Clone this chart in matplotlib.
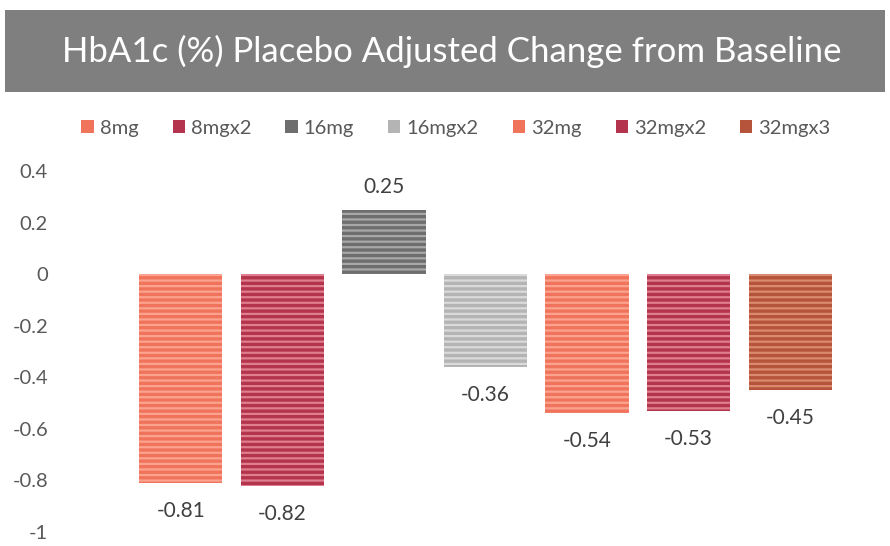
import numpy as np
import matplotlib.pyplot as plt
from matplotlib.patches import Rectangle

# Dose groups and placebo adjusted HbA1c change
doses = ["8mg", "8mgx2", "16mg", "16mgx2", "32mg", "32mgx2", "32mgx3"]
changes = [-0.81, -0.82, 0.25, -0.36, -0.54, -0.53, -0.45]
yticks = [0.4, 0.2, 0, -0.2, -0.4, -0.6, -0.8, -1]

# base fill and stripe colour for each bar
fills = ["#F0745C", "#B3344C", "#6E6E6E", "#B4B4B4", "#F0745C", "#B3344C", "#B5543A"]
stripes = ["#FBA38E", "#DE7E8E", "#A8A8A8", "#DADADA", "#FBA38E", "#DE7E8E", "#DA8A6E"]

plt.rcParams["font.family"] = ["Lato", "DejaVu Sans"]
plt.rcParams["hatch.linewidth"] = 1.6

fig = plt.figure(figsize=(8.9, 5.46), dpi=100)

# grey title banner
fig.patches.append(Rectangle((5 / 890, 1 - 92 / 546), 880 / 890, 82 / 546,
                             transform=fig.transFigure, facecolor="#7F7F7F",
                             edgecolor="none", zorder=0))
fig.text(452 / 890, 1 - 51 / 546, "HbA1c (%) Placebo Adjusted Change from Baseline",
         ha="center", va="center", color="white", fontsize=25)

ax = fig.add_axes([130 / 890, 14 / 546, 711 / 890, 361 / 546])
x = np.arange(len(doses))
width = 0.82

for i, (d, v) in enumerate(zip(doses, changes)):
    ax.bar(x[i], v, width, color=fills[i], label=d, zorder=2)
    ax.bar(x[i], v, width, facecolor="none", edgecolor=stripes[i],
           hatch="---", linewidth=0, zorder=3)
    if v >= 0:
        ax.text(x[i], v + 0.05, f"{v:.2f}", ha="center", va="bottom",
                fontsize=15, color="#404040")
    else:
        ax.text(x[i], v - 0.07, f"{v:.2f}", ha="center", va="top",
                fontsize=15, color="#404040")

ax.set_xlim(-0.5, len(doses) - 0.5)
ax.set_ylim(-1, 0.4)
ax.set_yticks(yticks)
ax.set_yticklabels([f"{t:g}" for t in yticks])
ax.set_xticks([])
ax.tick_params(axis="y", length=0, pad=59, labelsize=14.5, labelcolor="#595959")
for s in ax.spines.values():
    s.set_visible(False)

handles, labels = ax.get_legend_handles_labels()
fig.legend(handles, labels, loc="center", bbox_to_anchor=(456 / 890, 1 - 128 / 546),
           ncol=7, frameon=False, fontsize=14.5, labelcolor="#595959",
           handlelength=0.6, handleheight=0.6, handletextpad=0.3,
           columnspacing=1.7)

fig.savefig("out.png", dpi=100)
